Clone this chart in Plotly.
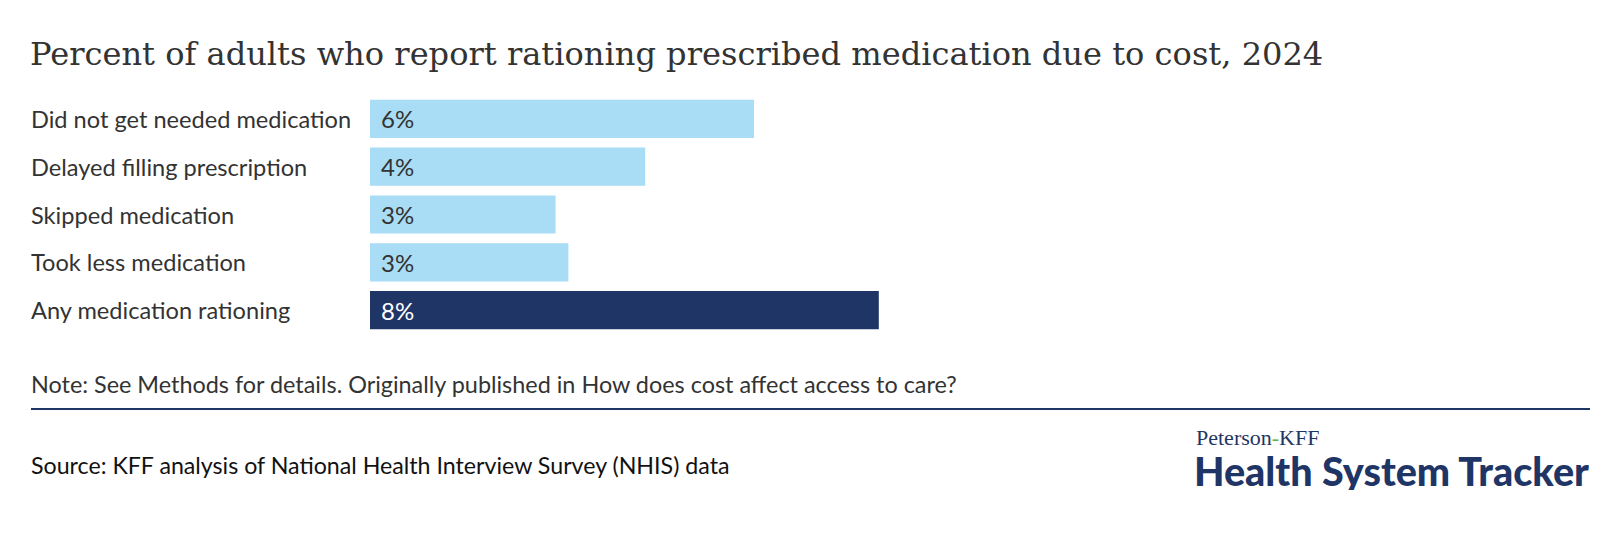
import plotly.graph_objects as go

categories = ["Did not get needed medication", "Delayed filling prescription",
              "Skipped medication", "Took less medication", "Any medication rationing"]
values = [6.0, 4.3, 2.9, 3.1, 7.95]
value_labels = ["6%", "4%", "3%", "3%", "8%"]
bar_colors = ["#A9DCF5", "#A9DCF5", "#A9DCF5", "#A9DCF5", "#1F3566"]
label_colors = ["#333333", "#333333", "#333333", "#333333", "#FFFFFF"]

title_text = "Percent of adults who report rationing prescribed medication due to cost, 2024"
note_text = "Note: See Methods for details. Originally published in How does cost affect access to care?"
source_text = "Source: KFF analysis of National Health Interview Survey (NHIS) data"

W, H = 1620, 546
L, R, T, B = 362, 38, 87, 220
PW = W - L - R
PH = H - T - B

def px(x):
    return (x - L) / PW

def py(y):
    return (H - B - y) / PH

fig = go.Figure(go.Bar(
    x=values, y=categories, orientation="h",
    marker=dict(color=bar_colors, line=dict(width=0)),
    hoverinfo="skip",
))

ann = []
for c, lab, col in zip(categories, value_labels, label_colors):
    ann.append(dict(x=0, y=c, xref="x", yref="y", text=lab, showarrow=False,
                    xanchor="left", yanchor="middle", xshift=9,
                    font=dict(family="Lato", size=24, color=col)))
    ann.append(dict(x=px(21), y=c, xref="paper", yref="y", text=c, showarrow=False,
                    xanchor="left", yanchor="middle",
                    font=dict(family="Lato", size=23.6, color="#333333")))

ann.append(dict(x=px(20), y=py(46), xref="paper", yref="paper", text=title_text,
                showarrow=False, xanchor="left", yanchor="middle",
                font=dict(family="DejaVu Serif", size=32.1, color="#333333")))
ann.append(dict(x=px(21), y=py(376), xref="paper", yref="paper", text=note_text,
                showarrow=False, xanchor="left", yanchor="middle",
                font=dict(family="Lato", size=23.4, color="#333333")))
ann.append(dict(x=px(21), y=py(457), xref="paper", yref="paper", text=source_text,
                showarrow=False, xanchor="left", yanchor="middle",
                font=dict(family="Lato", size=23.2, color="#111111")))
ann.append(dict(x=px(1186), y=py(429), xref="paper", yref="paper", height=20,
                text="Peterson<span style='color:#5DB44A'>-</span>KFF",
                showarrow=False, xanchor="left", yanchor="middle",
                font=dict(family="Liberation Serif", size=22, color="#1F3566")))
ann.append(dict(x=px(1184), y=py(462), xref="paper", yref="paper", height=40,
                text="Health System Tracker",
                showarrow=False, xanchor="left", yanchor="middle",
                font=dict(family="Lato Black, Lato", size=39.5, weight=900, color="#1F3566")))

fig.update_layout(
    width=W, height=H,
    margin=dict(l=L, r=R, t=T, b=B, pad=0),
    paper_bgcolor="white", plot_bgcolor="white",
    showlegend=False,
    bargap=0.2,
    annotations=ann,
    shapes=[dict(type="line", xref="paper", yref="paper",
                 x0=px(23), x1=px(1582), y0=py(401), y1=py(401),
                 line=dict(color="#1F3566", width=2))],
    xaxis=dict(range=[0, PW / 64.0], visible=False, fixedrange=True),
    yaxis=dict(categoryorder="array", categoryarray=categories, autorange="reversed",
               showticklabels=False, showgrid=False, zeroline=False, showline=False,
               ticks="", fixedrange=True),
)

fig.write_html("out.html", config={"displayModeBar": False})
